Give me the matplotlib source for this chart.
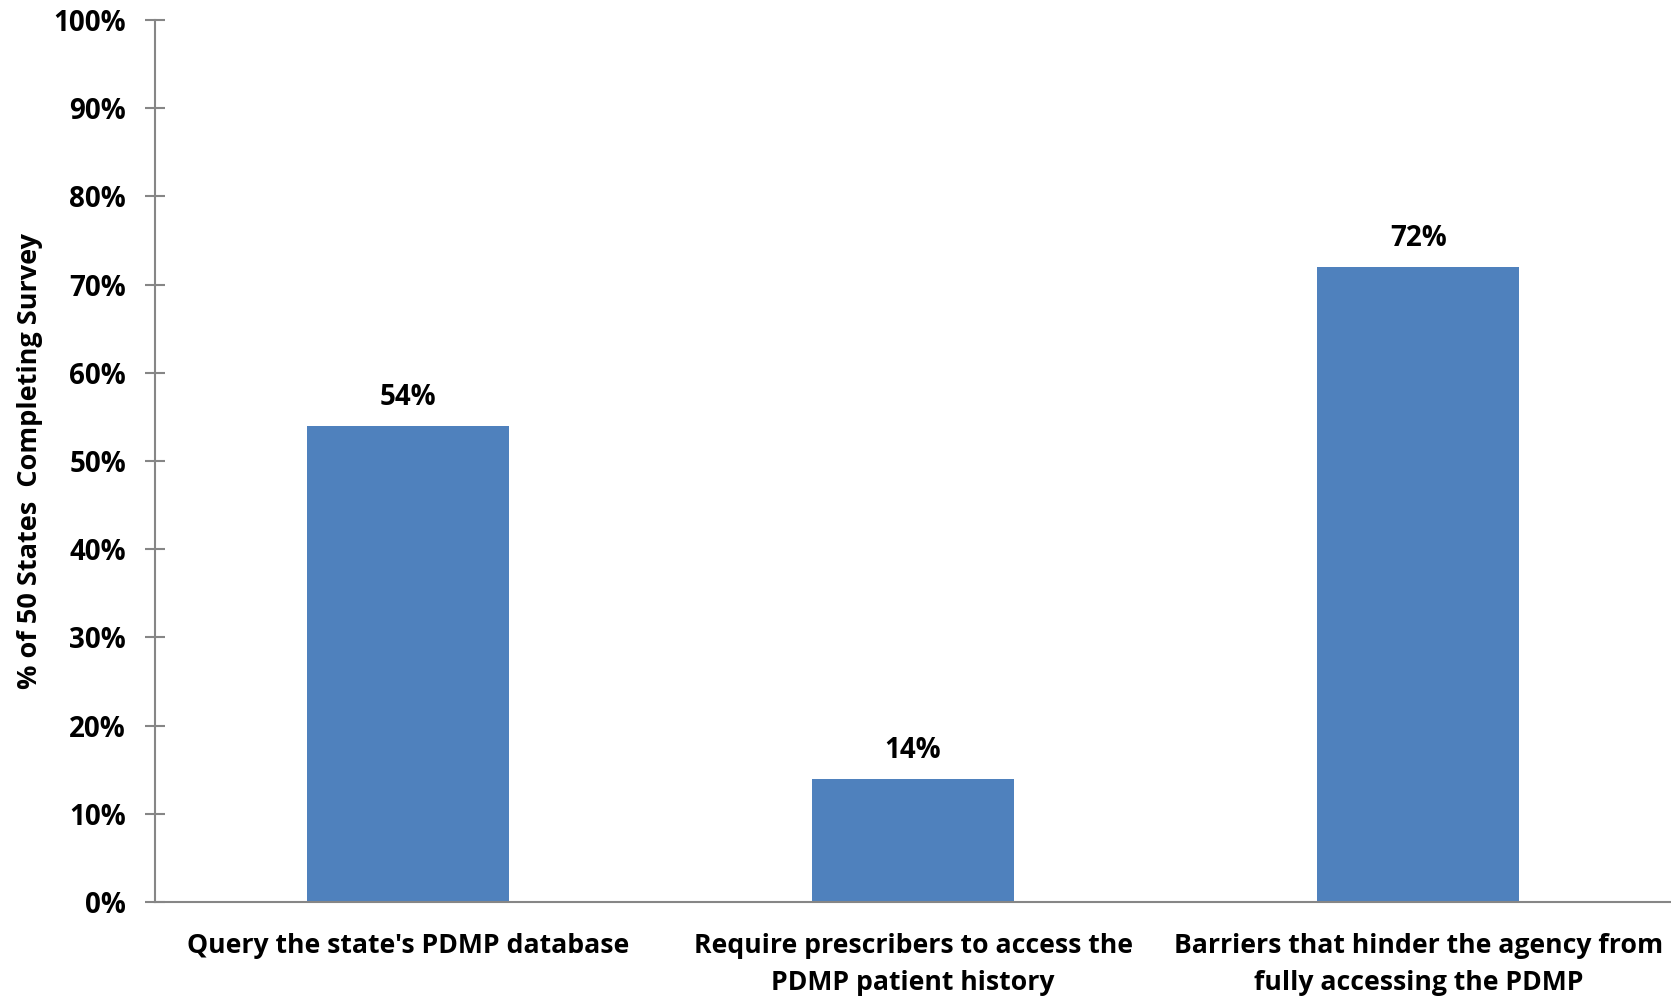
import matplotlib.pyplot as plt
from matplotlib.ticker import FuncFormatter, MultipleLocator

categories = ["Query the state's PDMP database",
              "Require prescribers to access the\nPDMP patient history",
              "Barriers that hinder the agency from\nfully accessing the PDMP"]
values = [54, 14, 72]
ylabel = "% of 50 States  Completing Survey"

plt.rcParams['font.family'] = ['Open Sans', 'DejaVu Sans']
plt.rcParams['font.weight'] = 'bold'

axis_grey = '#868686'
bar_blue = '#4F81BD'

fig = plt.figure(figsize=(16.71, 10), dpi=100)
ax = fig.add_axes([0.0928, 0.098, 0.9072, 0.882])

x = range(len(values))
bars = ax.bar(x, values, width=0.4, color=bar_blue, zorder=2)

for xi, v in zip(x, values):
    ax.annotate(f"{v}%", (xi, v), xytext=(0, 10), textcoords='offset points',
                ha='center', va='bottom', fontsize=20, fontweight='bold')

ax.set_xlim(-0.5, len(values) - 0.5)
ax.set_ylim(0, 100)
ax.yaxis.set_major_locator(MultipleLocator(10))
ax.yaxis.set_major_formatter(FuncFormatter(lambda v, p: f"{v:.0f}%"))

ax.set_xticks(list(x))
ax.set_xticklabels(categories, fontsize=19.2, fontweight='bold', linespacing=1.55)
ax.tick_params(axis='x', length=0, pad=22)
ax.tick_params(axis='y', direction='inout', length=14, width=1.5,
               color=axis_grey, labelsize=20, pad=14)
for lbl in ax.get_yticklabels():
    lbl.set_fontweight('bold')

for side in ('top', 'right'):
    ax.spines[side].set_visible(False)
for side in ('left', 'bottom'):
    ax.spines[side].set_color(axis_grey)
    ax.spines[side].set_linewidth(1.5)

ax.set_ylabel(ylabel, fontsize=19.5, fontweight='bold')
ax.yaxis.set_label_coords(-0.074, 0.5)

fig.savefig('out.png', dpi=100)
